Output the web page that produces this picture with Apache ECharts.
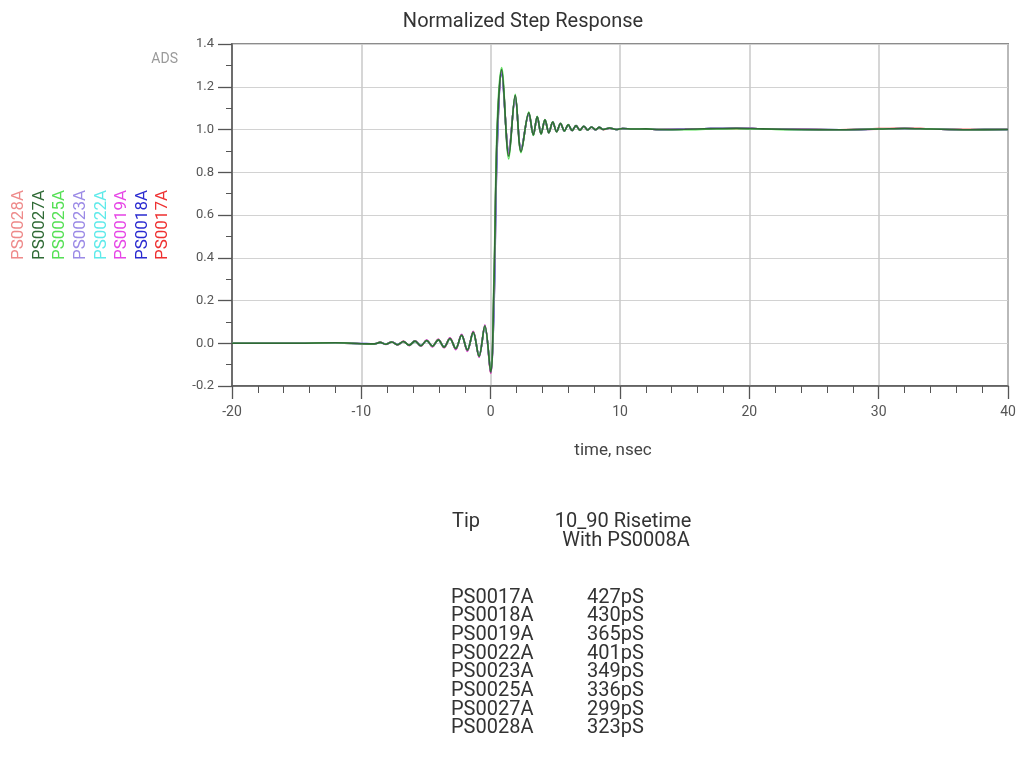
<!DOCTYPE html>
<html><head><meta charset="utf-8">
<script src="https://cdn.jsdelivr.net/npm/echarts@6/dist/echarts.min.js"></script>
<style>html,body{margin:0;padding:0;background:#fff}#c{width:1024px;height:779px}</style>
</head><body><div id="c"></div>
<script>
// time axis samples (nsec), shared by all traces
const time = [-20, -15, -12, -10, -9, -8.55, -8.1, -7.65, -7.2, -6.75, -6.3, -5.85, -5.4, -4.95, -4.5, -4.05, -3.6, -3.15, -2.7, -2.25, -1.8, -1.35, -0.9, -0.45, 0, 0.25, 0.5, 0.85, 1.4, 1.9, 2.35, 2.95, 3.3, 3.6, 3.9, 4.2, 4.5, 4.8, 5.1, 5.4, 5.7, 6.0, 6.3, 6.6, 6.9, 7.2, 7.5, 7.8, 8.1, 8.4, 8.7, 9.2, 9.7, 10.2, 11, 12, 13, 15, 17, 19, 21, 24, 27, 30, 32, 34, 37, 40];

const PS0017A = [0, 0.001, 0.001, -0.002, -0.002, 0.004, -0.005, 0.007, -0.007, 0.009, -0.010, 0.011, -0.013, 0.014, -0.015, 0.017, -0.02, 0.024, -0.027, 0.04, -0.035, 0.055, -0.06, 0.08, -0.14, 0.17, 0.92, 1.265, 0.9, 1.15, 0.905, 1.07, 0.978, 1.055, 0.982, 1.042, 0.986, 1.033, 0.99, 1.027, 0.994, 1.021, 0.995, 1.017, 0.997, 1.014, 0.998, 1.011, 0.999, 1.009, 1.000, 1.006, 1.001, 1.004, 1.001, 1.002, 1.000, 1.001, 1.003, 1.005, 1.003, 1.001, 0.999, 1.004, 1.006, 1.003, 1.000, 1.001];
const PS0018A = [0, 0, 0.002, -0.001, -0.003, 0.003, -0.004, 0.006, -0.006, 0.008, -0.009, 0.010, -0.011, 0.012, -0.014, 0.015, -0.017, 0.021, -0.024, 0.036, -0.03, 0.05, -0.058, 0.078, -0.13, 0.15, 0.9, 1.26, 0.9, 1.148, 0.908, 1.07, 0.976, 1.058, 0.981, 1.044, 0.986, 1.034, 0.991, 1.027, 0.993, 1.021, 0.996, 1.017, 0.997, 1.014, 0.999, 1.011, 0.999, 1.009, 1.001, 1.006, 1.000, 1.004, 1.002, 1.003, 0.999, 1.001, 1.004, 1.006, 1.003, 1.000, 0.998, 1.002, 1.005, 1.002, 0.999, 1.000];
const PS0019A = [0, 0, 0.002, -0.002, -0.003, 0.004, -0.006, 0.007, -0.008, 0.009, -0.011, 0.012, -0.014, 0.015, -0.017, 0.019, -0.021, 0.025, -0.03, 0.042, -0.038, 0.056, -0.066, 0.086, -0.14, 0.24, 0.98, 1.275, 0.885, 1.158, 0.898, 1.078, 0.974, 1.06, 0.979, 1.046, 0.984, 1.036, 0.989, 1.029, 0.993, 1.023, 0.995, 1.019, 0.997, 1.015, 0.998, 1.012, 0.999, 1.010, 1.000, 1.007, 1.000, 1.005, 1.002, 1.003, 1.000, 1.001, 1.004, 1.006, 1.003, 1.000, 0.999, 1.002, 1.005, 1.002, 0.999, 1.000];
const PS0022A = [0, 0, 0.001, -0.002, -0.002, 0.003, -0.005, 0.006, -0.007, 0.008, -0.009, 0.010, -0.012, 0.013, -0.015, 0.016, -0.019, 0.022, -0.026, 0.037, -0.033, 0.051, -0.061, 0.08, -0.135, 0.19, 0.94, 1.268, 0.895, 1.152, 0.903, 1.074, 0.976, 1.059, 0.98, 1.045, 0.985, 1.035, 0.99, 1.028, 0.993, 1.022, 0.995, 1.018, 0.997, 1.015, 0.998, 1.012, 0.999, 1.010, 1.000, 1.007, 1.000, 1.005, 1.002, 1.003, 1.000, 1.001, 1.004, 1.006, 1.003, 1.000, 0.999, 1.002, 1.005, 1.002, 0.999, 1.000];
const PS0023A = [0, 0, 0.002, -0.002, -0.003, 0.004, -0.005, 0.006, -0.007, 0.008, -0.010, 0.011, -0.012, 0.014, -0.015, 0.017, -0.019, 0.023, -0.026, 0.039, -0.034, 0.053, -0.063, 0.083, -0.138, 0.22, 0.96, 1.272, 0.888, 1.156, 0.9, 1.076, 0.975, 1.06, 0.98, 1.045, 0.985, 1.035, 0.99, 1.028, 0.993, 1.022, 0.995, 1.018, 0.997, 1.015, 0.998, 1.012, 0.999, 1.010, 1.000, 1.007, 1.000, 1.005, 1.002, 1.003, 1.000, 1.001, 1.004, 1.006, 1.003, 1.000, 0.999, 1.002, 1.005, 1.002, 0.999, 1.000];
const PS0025A = [0, 0, 0.002, -0.002, -0.003, 0.004, -0.005, 0.006, -0.007, 0.008, -0.009, 0.010, -0.012, 0.013, -0.014, 0.016, -0.018, 0.021, -0.024, 0.036, -0.031, 0.05, -0.06, 0.08, -0.13, 0.3, 1.02, 1.29, 0.862, 1.165, 0.892, 1.082, 0.972, 1.062, 0.978, 1.047, 0.984, 1.036, 0.989, 1.029, 0.992, 1.023, 0.995, 1.019, 0.996, 1.015, 0.998, 1.012, 0.999, 1.010, 1.000, 1.007, 1.000, 1.005, 1.002, 1.003, 1.000, 0.999, 1.002, 1.004, 1.002, 0.999, 0.999, 1.002, 1.005, 1.002, 0.999, 1.000];
const PS0027A = [0, 0, 0.002, -0.002, -0.003, 0.004, -0.005, 0.006, -0.007, 0.008, -0.009, 0.010, -0.012, 0.013, -0.014, 0.016, -0.018, 0.022, -0.025, 0.038, -0.032, 0.052, -0.062, 0.082, -0.135, 0.26, 0.98, 1.28, 0.875, 1.16, 0.897, 1.078, 0.975, 1.06, 0.98, 1.045, 0.985, 1.035, 0.99, 1.028, 0.993, 1.022, 0.995, 1.018, 0.997, 1.015, 0.998, 1.012, 0.999, 1.010, 1.000, 1.007, 1.000, 1.005, 1.002, 1.003, 1.000, 1.001, 1.004, 1.006, 1.003, 1.000, 0.999, 1.002, 1.005, 1.002, 0.999, 1.000];
const PS0028A = [0, 0, 0.002, -0.002, -0.003, 0.004, -0.005, 0.006, -0.008, 0.009, -0.010, 0.011, -0.013, 0.014, -0.016, 0.018, -0.02, 0.024, -0.028, 0.04, -0.036, 0.054, -0.064, 0.084, -0.14, 0.23, 0.97, 1.274, 0.887, 1.157, 0.899, 1.077, 0.975, 1.06, 0.98, 1.045, 0.985, 1.035, 0.99, 1.028, 0.993, 1.022, 0.995, 1.018, 0.997, 1.015, 0.998, 1.012, 0.999, 1.010, 1.000, 1.007, 1.000, 1.005, 1.002, 1.003, 1.000, 1.001, 1.003, 1.005, 1.003, 1.001, 0.998, 1.001, 1.006, 1.003, 1.000, 1.000];

// legend order (left to right) and colours
const legendNames = ['PS0028A', 'PS0027A', 'PS0025A', 'PS0023A', 'PS0022A', 'PS0019A', 'PS0018A', 'PS0017A'];
const legendColors = ['#ee8a8a', '#2f6a35', '#55e055', '#9b8ae6', '#5eeaea', '#e646e6', '#2a2ad0', '#ee3030'];
const traceValues = {PS0017A, PS0018A, PS0019A, PS0022A, PS0023A, PS0025A, PS0027A, PS0028A};
// drawing order (last on top)
const drawOrder = ['PS0028A', 'PS0017A', 'PS0018A', 'PS0022A', 'PS0023A', 'PS0019A', 'PS0025A', 'PS0027A'];

// table
const tipNames = ['PS0017A', 'PS0018A', 'PS0019A', 'PS0022A', 'PS0023A', 'PS0025A', 'PS0027A', 'PS0028A'];
const riseTimes = ['427pS', '430pS', '365pS', '401pS', '349pS', '336pS', '299pS', '323pS'];

const titleText = 'Normalized Step Response';
const xAxisTitle = 'time, nsec';
const yUnitLabel = 'ADS';

const FONT = 'Roboto, "Noto Sans", sans-serif';
const chart = echarts.init(document.getElementById('c'), null, {renderer: 'canvas'});

const series = drawOrder.map(function (name) {
  const vals = traceValues[name];
  const col = legendColors[legendNames.indexOf(name)];
  return {
    name: name,
    type: 'line',
    showSymbol: false,
    smooth: 0.35,
    data: time.map(function (t, i) { return [t, vals[i]]; }),
    lineStyle: {width: 1.6, color: col},
    itemStyle: {color: col},
    silent: true,
    z: 3
  };
});

function txt(x, y, text, size, color, align, extra) {
  const o = {type: 'text', x: x, y: y,
    style: {text: text, fill: color, font: size + 'px ' + FONT,
      textAlign: align, textVerticalAlign: 'middle', align: align, verticalAlign: 'middle'}};
  if (extra) Object.assign(o, extra);
  return o;
}

const graphic = [];
legendNames.forEach(function (n, i) {
  graphic.push(txt(19 + i * 20.6, 225, n, 17, legendColors[i], 'center', {rotation: Math.PI / 2}));
});
graphic.push(txt(178, 59, yUnitLabel, 14, '#9a9a9a', 'right'));
graphic.push(txt(613, 451, xAxisTitle, 17, '#444', 'center'));
// table
graphic.push(txt(452, 522, 'Tip', 20, '#333', 'left'));
graphic.push(txt(623, 522, '10_90 Risetime', 20, '#333', 'center'));
graphic.push(txt(626, 541, 'With PS0008A', 20, '#333', 'center'));
tipNames.forEach(function (n, i) {
  const y = 597.5 + i * 18.7;
  graphic.push(txt(451, y, n, 20, '#333', 'left'));
  graphic.push(txt(587, y, riseTimes[i], 20, '#333', 'left'));
});

chart.setOption({
  animation: false,
  backgroundColor: '#fff',
  title: {text: titleText, left: 518, top: 7, textAlign: 'center',
    textStyle: {fontFamily: FONT, fontSize: 20, fontWeight: 'normal', color: '#333'}},
  grid: {left: 232, right: 16, top: 44, bottom: 393, show: true, borderColor: '#8c8c8c', borderWidth: 2, containLabel: false},
  xAxis: {
    type: 'value', min: -20, max: 40, interval: 10,
    axisLine: {onZero: false, lineStyle: {color: '#555', width: 1.5}},
    axisTick: {show: true, length: 13, lineStyle: {color: '#555', width: 1.3}},
    minorTick: {show: true, splitNumber: 5, length: 7, lineStyle: {color: '#555', width: 1}},
    splitLine: {show: true, lineStyle: {color: '#c8c8c8', width: 1.5}},
    axisLabel: {margin: 19, fontFamily: FONT, fontSize: 14, color: '#555'}
  },
  yAxis: {
    type: 'value', min: -0.2, max: 1.4, interval: 0.2,
    axisLine: {onZero: false, lineStyle: {color: '#555', width: 1.5}},
    axisTick: {show: true, length: 14, lineStyle: {color: '#555', width: 1.3}},
    minorTick: {show: true, splitNumber: 2, length: 6, lineStyle: {color: '#555', width: 1}},
    splitLine: {show: true, lineStyle: {color: '#d2d2d2', width: 1}},
    axisLabel: {margin: 18, fontFamily: FONT, fontSize: 13, color: '#555',
      formatter: function (v) { return v.toFixed(1); }}
  },
  series: series,
  graphic: graphic
});
</script></body></html>
